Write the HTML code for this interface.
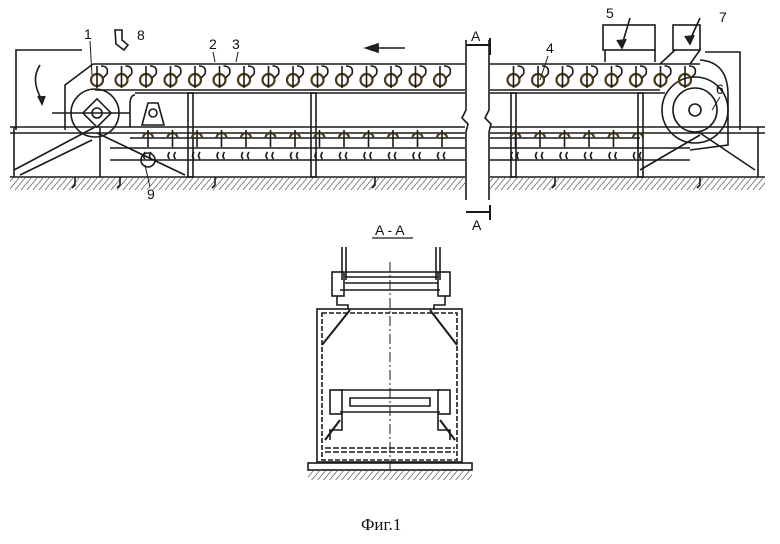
<!DOCTYPE html>
<html><head><meta charset="utf-8"><style>
html,body{margin:0;padding:0;background:#fff;}
svg{display:block}
text{font-family:"Liberation Sans",sans-serif;fill:#111}
</style></head><body>
<svg id="s" width="780" height="544" viewBox="0 0 780 544" xmlns="http://www.w3.org/2000/svg" stroke="#1a1a1a" fill="none" stroke-width="1.6">
<defs>
<pattern id="h" width="6" height="12" patternUnits="userSpaceOnUse" patternTransform="skewX(-40)">
<line x1="0" y1="0" x2="0" y2="12" stroke="#222" stroke-width="1.4"/></pattern>
</defs>
<rect x="10" y="178" width="455" height="12" fill="url(#h)" stroke="none"/>
<rect x="490" y="178" width="275" height="12" fill="url(#h)" stroke="none"/>
<line x1="10" y1="177" x2="465" y2="177"/><line x1="490" y1="177" x2="765" y2="177"/>
<polyline points="82,50 16,50 16,130"/>
<path d="M40,65 Q30,80 42,100" /><path d="M38,96 l4,8 l3,-8" fill="#222"/>
<line x1="10" y1="127" x2="465" y2="127"/><line x1="10" y1="133" x2="465" y2="133"/>
<line x1="490" y1="127" x2="765" y2="127"/><line x1="490" y1="133" x2="765" y2="133"/>
<line x1="14" y1="127" x2="14" y2="177"/><line x1="758" y1="127" x2="758" y2="177"/>
<path d="M93,64 L465,64 M490,64 L700,64"/>
<path d="M95,90 L465,90 M490,90 L660,90"/>
<path d="M135,93 L465,93 M490,93 L665,93"/>
<path d="M93,64 L65,85 L65,130"/>
<path d="M135,95 Q130,95 130,105 L130,127"/>
<circle cx="95" cy="113" r="24"/>
<rect x="87" y="103" width="20" height="20" transform="rotate(45 97 113)"/>
<circle cx="97" cy="113" r="5"/>
<line x1="52" y1="113" x2="130" y2="113"/>
<circle cx="695" cy="110" r="33"/><circle cx="695" cy="110" r="22"/><circle cx="695" cy="110" r="6"/>
<path d="M700,60 Q728,62 728,95 L728,145 L690,150"/>
<path d="M705,52 L740,52 L740,130"/>
<path d="M142,125 L148,103 L158,103 L164,125 Z"/><circle cx="153" cy="113" r="4"/>
<g id="posts"></g>
<path d="M14,170 L95,127 M97,133 L185,175 M20,175 L92,140 M640,170 L700,135 M700,133 L755,170"/>
<line x1="100" y1="127" x2="100" y2="177"/>
<line x1="130" y1="138" x2="465" y2="138"/><line x1="490" y1="138" x2="640" y2="138"/>
<line x1="110" y1="148" x2="465" y2="148"/><line x1="490" y1="148" x2="690" y2="148"/>
<line x1="110" y1="160" x2="465" y2="160"/><line x1="490" y1="160" x2="690" y2="160"/>
<g id="dyn"></g>
<circle cx="148" cy="160" r="7"/>
<rect x="603" y="25" width="52" height="25"/>
<rect x="673" y="25" width="27" height="25"/>
<path d="M605,50 L605,62 M655,50 L655,62 M675,50 L660,64 M700,50 L690,64"/>
<path d="M630,18 L622,45" /><path d="M617,40 l5,8 l4,-9" fill="#222"/>
<path d="M700,18 L690,40"/><path d="M685,36 l5,8 l4,-9" fill="#222"/>
<path d="M115,30 L122,30 L122,40 L128,45 L124,50 L116,44 Z"/>
<line x1="375" y1="48" x2="405" y2="48"/><path d="M366,48 l12,-4 l0,8 z" fill="#222"/>
<rect x="466" y="30" width="23" height="180" fill="#fff" stroke="none"/>
<path d="M466,40 L466,110 L462,118 L468,124 L466,132 L466,200 M489,40 L489,110 L485,118 L491,124 L489,132 L489,200"/>
<path d="M466,45 L490,45 M490,38 L490,55 M466,212 L490,212 M490,205 L490,220" stroke-width="2"/>
<g stroke="none" font-size="14">
<text x="84" y="39">1</text><text x="137" y="40">8</text><text x="209" y="49">2</text><text x="232" y="49">3</text>
<text x="546" y="53">4</text><text x="606" y="18">5</text><text x="719" y="22">7</text><text x="716" y="94">6</text>
<text x="147" y="199">9</text><text x="471" y="41">A</text><text x="472" y="230">A</text>
<text x="375" y="235">A - A</text>
</g>
<path d="M90,41 L92,75 M213,52 L215,62 M238,52 L236,62 M548,56 L540,80 M720,97 L712,110 M150,187 L145,165" stroke-width="1"/>
<line x1="372" y1="238" x2="413" y2="238" stroke-width="1.2"/>
<g>
<rect x="317" y="309" width="145" height="153"/>
<rect x="322" y="313" width="135" height="147" stroke-dasharray="5,2"/>
<rect x="308" y="463" width="164" height="7"/>
<rect x="308" y="471" width="164" height="9" fill="url(#h)" stroke="none"/>
<line x1="390" y1="262" x2="390" y2="470" stroke-dasharray="10,3,2,3" stroke-width="1"/>
<path d="M342,247 L342,280 M346,247 L346,280 M436,247 L436,280 M440,247 L440,280"/>
<path d="M345,272 L438,272 M345,277 L438,277 M345,283 L438,283 M340,290 L440,290"/>
<rect x="332" y="272" width="12" height="24"/><rect x="438" y="272" width="12" height="24"/>
<path d="M337,296 L337,305 L348,305 L348,309 M445,296 L445,305 L434,305 L434,309"/>
<path d="M350,310 L322,345 M430,310 L457,345" stroke-width="2"/>
<path d="M340,390 L440,390 M350,398 L430,398 L430,406 L350,406 Z M340,412 L440,412"/>
<rect x="330" y="390" width="12" height="24"/><rect x="438" y="390" width="12" height="24"/>
<path d="M342,414 L342,430 L330,430 L330,440 M438,414 L438,430 L450,430 L450,440"/>
<path d="M325,440 L340,420 M455,440 L440,420" stroke-width="2"/>
<path d="M325,448 L455,448 M325,452 L455,452" stroke-dasharray="6,2"/>
</g>
<text x="361" y="530" stroke="none" font-size="17" style="font-family:'Liberation Serif',serif">Фиг.1</text>
</svg>
<script>
var ns="http://www.w3.org/2000/svg",g=document.getElementById('dyn'),p=document.getElementById('posts');
function el(t,a,par){var e=document.createElementNS(ns,t);for(var k in a)e.setAttribute(k,a[k]);(par||g).appendChild(e);}
for(var x=97;x<700;x+=24.5){if(x>460&&x<495)continue;
el('circle',{cx:x,cy:80,r:6,stroke:'#4a3c18','stroke-width':2.2});
el('line',{x1:x,y1:66,x2:x,y2:88});
el('path',{d:'M'+(x+4)+',66 q8,0 6,8 l-4,4'});}
for(var x=148;x<640;x+=24.5){if(x>455&&x<500)continue;
el('path',{d:'M'+(x-5)+',138 a5,5 0 0 1 10,0',stroke:'#4a3c18','stroke-width':2.2});
el('line',{x1:x,y1:130,x2:x,y2:147});
el('path',{d:'M'+(x-3)+',152 q-3,4 0,7 M'+(x+3)+',152 q-3,4 0,7'});}
[190,313,513,640].forEach(function(x){el('rect',{x:x-2,y:93,width:5,height:84},p);});
[75,120,215,375,555,700].forEach(function(x){el('path',{d:'M'+x+',177 l0,8 l-3,3'},p);});
</script>
</body></html>
